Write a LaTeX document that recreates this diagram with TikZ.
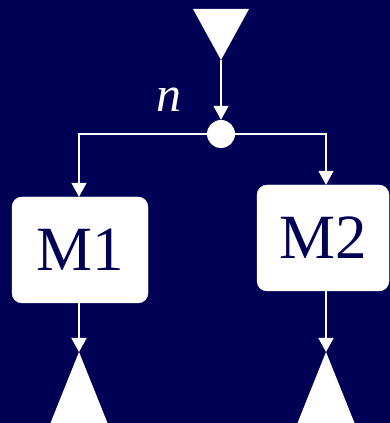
\documentclass[tikz,border=0pt]{standalone}
\usepackage{fontspec}
\setmainfont{Liberation Serif}
\usetikzlibrary{arrows.meta}
\definecolor{navy}{RGB}{0,0,85}
\begin{document}
\begin{tikzpicture}
  [x=1pt, y=1pt,
   flow/.style={draw=white, line width=1.6pt, -{Triangle[length=14pt, width=15pt]}},
   mbox/.style={rectangle, rounded corners=10pt, fill=white, draw=white, text=navy,
                inner sep=0pt, minimum height=106pt, font=\fontsize{63}{63}\selectfont},
   joint/.style={circle, fill=white, inner sep=0pt, minimum size=28pt}]

  \fill[navy] (0,0) rectangle (390,423);
  \useasboundingbox (0,0) rectangle (390,423);

  % source and sinks
  \fill[white] (193,414) -- (249,414) -- (221,363) -- cycle;
  \coordinate (srctip) at (221,363);
  \fill[white] (50.5,0) -- (107.5,0) -- (79,71) -- cycle;
  \coordinate (sink1) at (79,71);
  \fill[white] (297.5,0) -- (354.5,0) -- (326,71) -- cycle;
  \coordinate (sink2) at (326,71);

  \node[joint] (split) at (221,289) {};
  \node[text=white, font=\fontsize{50}{50}\selectfont\itshape] (nlabel) at (169,323) {n};

  \node[mbox, minimum width=136pt] (m1) at (80,173) {M1};
  \node[mbox, minimum width=132pt] (m2) at (323,185) {M2};

  \draw[flow] (srctip) -- (split);
  \draw[flow] (split) -| (m1.north -| sink1);
  \draw[flow] (split) -| (m2.north -| sink2);
  \draw[flow] (m1.south -| sink1) -- (sink1);
  \draw[flow] (m2.south -| sink2) -- (sink2);
\end{tikzpicture}
\end{document}
